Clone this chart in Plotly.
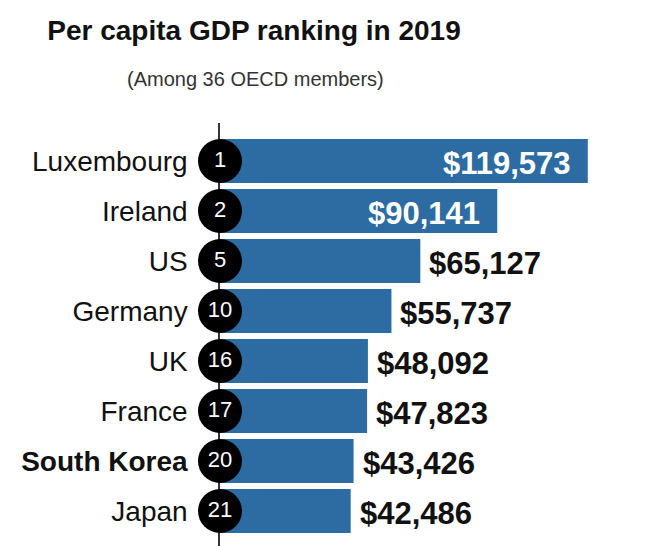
import plotly.graph_objects as go

countries = ["Luxembourg", "Ireland", "US", "Germany", "UK", "France", "South Korea", "Japan"]
ranks = [1, 2, 5, 10, 16, 17, 20, 21]
gdp = [119573, 90141, 65127, 55737, 48092, 47823, 43426, 42486]
highlight = "South Korea"
inside = [True, True, False, False, False, False, False, False]

FONT = "Arial, Liberation Sans, Helvetica, sans-serif"
BAR = "#2c6ca3"

tick_text = [f"<b>{c}</b>" if c == highlight else c for c in countries]

fig = go.Figure()
fig.add_trace(go.Bar(
    x=gdp, y=countries, orientation="h", width=0.88,
    marker=dict(color=BAR, line=dict(width=0)),
    hoverinfo="skip",
))
fig.add_trace(go.Scatter(
    x=[0] * len(countries), y=countries, mode="markers+text",
    marker=dict(size=44, color="#000000", line=dict(width=0)),
    text=[str(r) for r in ranks], textposition="middle center",
    textfont=dict(family=FONT, size=22, color="white"),
    cliponaxis=False, hoverinfo="skip",
))

annotations = []
for c, v, ins in zip(countries, gdp, inside):
    annotations.append(dict(
        x=v, y=c, xref="x", yref="y",
        text=f"<b>${v:,}</b>", showarrow=False,
        xanchor="right" if ins else "left",
        xshift=-15 if ins else 7, yshift=-2,
        font=dict(family=FONT, size=31, color="white" if ins else "#111111"),
    ))

annotations.append(dict(
    x=(255 - 220) / 430, y=(546 - 79) / 423, xref="paper", yref="paper",
    text="(Among 36 OECD members)", showarrow=False,
    xanchor="center", yanchor="middle",
    font=dict(family=FONT, size=20, color="#333333"),
))

fig.update_layout(
    width=650, height=546,
    margin=dict(l=220, r=0, t=123, b=0, autoexpand=False),
    paper_bgcolor="white", plot_bgcolor="white",
    showlegend=False,
    title=dict(
        text="<b>Per capita GDP ranking in 2019</b>",
        x=254 / 650, xanchor="center", xref="container",
        y=1 - 30 / 546, yanchor="middle", yref="container",
        font=dict(family=FONT, size=28, color="#111111"),
    ),
    annotations=annotations,
    bargap=0.12,
)
fig.update_xaxes(range=[0, 139800], visible=False, showgrid=False, zeroline=False)
fig.update_yaxes(
    type="category", categoryorder="array", categoryarray=countries,
    range=[7.7, -0.76],
    tickvals=countries, ticktext=tick_text,
    ticks="", ticklabelstandoff=25,
    tickfont=dict(family=FONT, size=28, color="#111111"),
    showline=True, linecolor="#333333", linewidth=1.5,
    showgrid=False, zeroline=False, layer="below traces",
)

fig.write_html(
    "out.html",
    config={"displayModeBar": False},
    post_script="document.body.style.margin='0';document.body.style.padding='0';",
)
